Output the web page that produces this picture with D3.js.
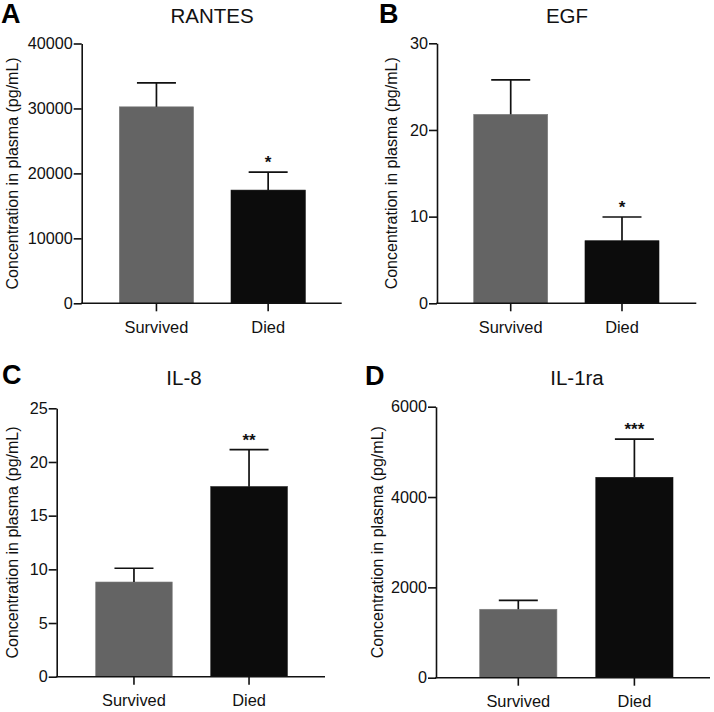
<!DOCTYPE html>
<html>
<head>
<meta charset="utf-8">
<script src="https://cdn.jsdelivr.net/npm/d3@7"></script>
<style>
  html, body { margin: 0; padding: 0; background: #ffffff; }
  svg { display: block; font-family: "Liberation Sans", Arial, Helvetica, sans-serif; }
</style>
</head>
<body>
<svg id="chart" width="714" height="712"></svg>
<script>
// ---------------- data ----------------
const categories = ["Survived", "Died"];
const panelLetters = ["A", "B", "C", "D"];
const panelTitles = ["RANTES", "EGF", "IL-8", "IL-1ra"];
const yAxisLabel = "Concentration in plasma (pg/mL)";

const rantesMean = [30250, 17430];
const rantesErr  = [3690, 2770];
const egfMean    = [21.8, 7.22];
const egfErr     = [3.97, 2.74];
const il8Mean    = [8.82, 17.7];
const il8Err     = [1.28, 3.45];
const il1raMean  = [1515, 4436];
const il1raErr   = [198, 848];

const rantesTicks = [0, 10000, 20000, 30000, 40000];
const egfTicks    = [0, 10, 20, 30];
const il8Ticks    = [0, 5, 10, 15, 20, 25];
const il1raTicks  = [0, 2000, 4000, 6000];

const rantesSig = ["", "*"];
const egfSig    = ["", "*"];
const il8Sig    = ["", "**"];
const il1raSig  = ["", "***"];

const means = [rantesMean, egfMean, il8Mean, il1raMean];
const errs  = [rantesErr, egfErr, il8Err, il1raErr];
const ticks = [rantesTicks, egfTicks, il8Ticks, il1raTicks];
const sigs  = [rantesSig, egfSig, il8Sig, il1raSig];

// ---------------- layout ----------------
const layout = [
  { axisX: 81.7,  right: 341.7, top: 43.5,  bottom: 303.3, bars: [119.3, 305.3], ymax: 40000,
    letterX: 1,   letterY: 23,  titleX: 212, titleY: 23,  labelX: 18 },
  { axisX: 437,   right: 696.3, top: 43.3,  bottom: 303.3, bars: [473.7, 659],   ymax: 30,
    letterX: 379, letterY: 23,  titleX: 567, titleY: 23,  labelX: 397 },
  { axisX: 56.7,  right: 325,   top: 408.3, bottom: 676.7, bars: [95.7, 287.3],  ymax: 25,
    letterX: 2,   letterY: 384, titleX: 184, titleY: 385, labelX: 18 },
  { axisX: 436,   right: 710,   top: 406.7, bottom: 677.7, bars: [479.7, 673],   ymax: 6000,
    letterX: 365, letterY: 385, titleX: 577, titleY: 385, labelX: 383 }
];

const barColors = ["#646464", "#0c0c0c"];
const ink = "#111111";

const svg = d3.select("#chart");

layout.forEach((L, i) => {
  const g = svg.append("g");

  const x = d3.scaleBand()
    .domain(categories)
    .range(L.bars)
    .paddingInner(0.335)
    .paddingOuter(0);

  const y = d3.scaleLinear()
    .domain([0, L.ymax])
    .range([L.bottom, L.top]);

  const data = categories.map((c, k) => ({
    cat: c, mean: means[i][k], err: errs[i][k], sig: sigs[i][k], color: barColors[k]
  }));

  // bars
  g.selectAll("rect.bar").data(data).enter().append("rect")
    .attr("class", "bar")
    .attr("x", d => x(d.cat))
    .attr("width", x.bandwidth())
    .attr("y", d => y(d.mean))
    .attr("height", d => y(0) - y(d.mean))
    .attr("fill", d => d.color)
    .attr("stroke", d => d3.color(d.color).brighter(0.6))
    .attr("stroke-width", 0.6);

  // error bars (upper only)
  const capHalf = 19.5;
  g.selectAll("line.errv").data(data).enter().append("line")
    .attr("x1", d => x(d.cat) + x.bandwidth() / 2)
    .attr("x2", d => x(d.cat) + x.bandwidth() / 2)
    .attr("y1", d => y(d.mean))
    .attr("y2", d => y(d.mean + d.err))
    .attr("stroke", ink).attr("stroke-width", 1.7);
  g.selectAll("line.errc").data(data).enter().append("line")
    .attr("x1", d => x(d.cat) + x.bandwidth() / 2 - capHalf)
    .attr("x2", d => x(d.cat) + x.bandwidth() / 2 + capHalf)
    .attr("y1", d => y(d.mean + d.err))
    .attr("y2", d => y(d.mean + d.err))
    .attr("stroke", ink).attr("stroke-width", 1.7);

  // significance stars
  g.selectAll("text.sig").data(data).enter().append("text")
    .attr("x", d => x(d.cat) + x.bandwidth() / 2)
    .attr("y", d => y(d.mean + d.err) - 4)
    .attr("text-anchor", "middle")
    .attr("font-size", 17)
    .attr("font-weight", "bold")
    .attr("fill", ink)
    .text(d => d.sig);

  // y axis
  const yAxis = d3.axisLeft(y)
    .tickValues(ticks[i])
    .tickFormat(d3.format("d"))
    .tickSize(8)
    .tickSizeOuter(0)
    .tickPadding(1);
  const ya = g.append("g")
    .attr("transform", `translate(${L.axisX},0)`)
    .call(yAxis);
  ya.selectAll("path, line").attr("stroke", ink).attr("stroke-width", 1.6);
  ya.selectAll("text").attr("font-size", 16.2).attr("fill", ink)
    .attr("font-family", "Liberation Sans, Arial, sans-serif");

  // x axis baseline
  g.append("line")
    .attr("x1", L.axisX - 0.8).attr("x2", L.right)
    .attr("y1", L.bottom).attr("y2", L.bottom)
    .attr("stroke", ink).attr("stroke-width", 1.6);

  // x axis ticks and labels
  const xAxis = d3.axisBottom(x).tickSize(8).tickPadding(10);
  const xa = g.append("g")
    .attr("transform", `translate(0,${L.bottom})`)
    .call(xAxis);
  xa.select(".domain").remove();
  xa.selectAll("line").attr("stroke", ink).attr("stroke-width", 1.6);
  xa.selectAll("text").attr("font-size", 16.4).attr("fill", ink)
    .attr("font-family", "Liberation Sans, Arial, sans-serif");

  // y axis label
  g.append("text")
    .attr("transform", `translate(${L.labelX},${(L.top + L.bottom) / 2}) rotate(-90)`)
    .attr("text-anchor", "middle")
    .attr("font-size", 16)
    .attr("fill", ink)
    .text(yAxisLabel);

  // title
  g.append("text")
    .attr("x", L.titleX).attr("y", L.titleY)
    .attr("text-anchor", "middle")
    .attr("font-size", 20.5)
    .attr("fill", ink)
    .text(panelTitles[i]);

  // panel letter
  g.append("text")
    .attr("x", L.letterX).attr("y", L.letterY)
    .attr("font-size", 27)
    .attr("font-weight", "bold")
    .attr("fill", "#000")
    .text(panelLetters[i]);
});
</script>
</body>
</html>
